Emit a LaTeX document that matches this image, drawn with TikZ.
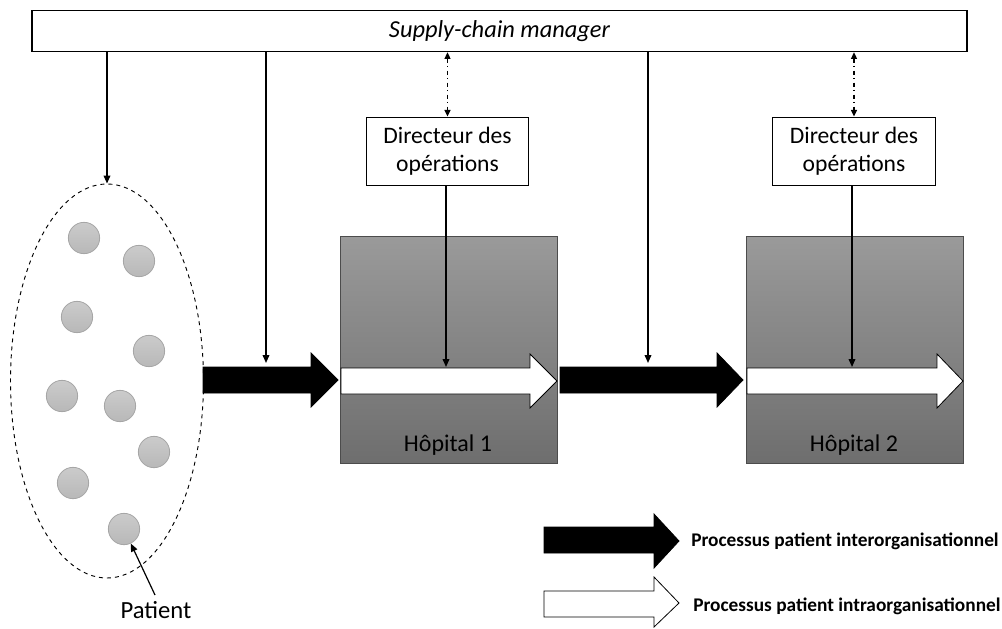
\documentclass[tikz,border=0pt]{standalone}
\usepackage{fontspec}
\setmainfont{Carlito}
\usetikzlibrary{arrows.meta,shapes.geometric}
\definecolor{hosptop}{HTML}{9A9A9A}
\definecolor{hospbot}{HTML}{6E6E6E}
\definecolor{pattop}{HTML}{CBCBCB}
\definecolor{patbot}{HTML}{B8B8B8}
\definecolor{patline}{HTML}{A6A6A6}
\begin{document}
\begin{tikzpicture}[x=0.75pt,y=-0.75pt,
  box/.style={draw=black, line width=0.9pt, fill=white, inner sep=0pt},
  dirbox/.style={box, minimum width=122pt, minimum height=51.5pt, align=center, font=\fontsize{17.7}{21}\selectfont},
  hosp/.style={draw=black!70, line width=0.6pt, top color=hosptop, bottom color=hospbot, minimum width=162.75pt, minimum height=170.25pt, inner sep=0pt},
  pat/.style={circle, draw=patline, line width=0.6pt, top color=pattop, bottom color=patbot, minimum size=23.5pt, inner sep=0pt},
  conn/.style={line width=1.1pt, -{Triangle[length=6pt,width=5pt]}},
  ddconn/.style={line width=0.9pt, dash pattern=on 3pt off 2.5pt on 1pt off 2.5pt, {Triangle[length=5pt,width=4.5pt]}-{Triangle[length=5pt,width=4.5pt]}},
  blackarr/.style={fill=black, draw=black, line width=0.6pt},
  whitearr/.style={fill=white, draw=black, line width=0.6pt},
  lbl/.style={font=\fontsize{18}{21}\selectfont},
  legtext/.style={font=\bfseries\fontsize{14.5}{17}\selectfont, anchor=west, inner sep=0pt}
]
\useasboundingbox (0,0) rectangle (1002,628);

% top box
\node[box, minimum width=701.25pt, minimum height=31pt, font=\itshape\fontsize{18.3}{21}\selectfont] (scm) at (499.5,31) {Supply-chain manager};

% patient pool
\node[ellipse, draw, dashed, line width=0.7pt, minimum width=144.75pt, minimum height=295.5pt, inner sep=0pt] (pool) at (107,381) {};
\node[pat] (c1) at (84,238) {};
\node[pat] (c2) at (139,261) {};
\node[pat] (c3) at (77,317) {};
\node[pat] (c4) at (149,351) {};
\node[pat] (c5) at (62,396) {};
\node[pat] (c6) at (120,406) {};
\node[pat] (c7) at (154,452) {};
\node[pat] (c8) at (73,483) {};
\node[pat] (c9) at (124,529) {};
\node[lbl, font=\fontsize{18.5}{21}\selectfont] (plabel) at (156,610) {Patient};
\coordinate (ptail) at (155,595);
\draw[line width=0.9pt, -{Triangle[length=6pt,width=5pt]}] (ptail) -- (c9);

% hospitals
\node[hosp] (h1) at (448.5,349.5) {};
\node[hosp] (h2) at (854.5,349.5) {};
\node[lbl] (h1l) at (448,445) {Hôpital 1};
\node[lbl] (h2l) at (854,445) {Hôpital 2};

% flow arrows
\draw[blackarr] (203,367) -- (311,367) -- (311,353) -- (338,380) -- (311,407) -- (311,393) -- (203,393) -- cycle;
\draw[whitearr] (341,368) -- (530,368) -- (530,354) -- (557,381) -- (530,408) -- (530,394) -- (341,394) -- cycle;
\draw[blackarr] (560,367) -- (717,367) -- (717,353) -- (743,380) -- (717,407) -- (717,393) -- (560,393) -- cycle;
\draw[whitearr] (747,368) -- (937,368) -- (937,354) -- (963,381) -- (937,408) -- (937,394) -- (747,394) -- cycle;

% directors
\node[dirbox] (d1) at (447.5,151.5) {Directeur des\\opérations};
\node[dirbox] (d2) at (854,151.5) {Directeur des\\opérations};

% connectors
\coordinate (p0) at (107,184);
\coordinate (p1) at (266,363);
\coordinate (p2) at (648,363);
\coordinate (w1) at (446,367);
\coordinate (w2) at (852,367);
\draw[conn] (scm.south -| p0) -- (pool.north);
\draw[conn] (scm.south -| p1) -- (p1);
\draw[conn] (scm.south -| p2) -- (p2);
\draw[conn] (d1.south -| w1) -- (w1);
\draw[conn] (d2.south -| w2) -- (w2);
\draw[ddconn] (scm.south -| d1.north) -- (d1.north);
\draw[ddconn] (scm.south -| d2.north) -- (d2.north);

% legend
\draw[blackarr] (544,527) -- (654,527) -- (654,514) -- (679,541) -- (654,568) -- (654,553) -- (544,553) -- cycle;
\node[legtext] (leg1) at (691,541) {Processus patient interorganisationnel};
\draw[whitearr] (544,591) -- (654,591) -- (654,577) -- (679,603) -- (654,627) -- (654,617) -- (544,617) -- cycle;
\node[legtext] (leg2) at (693,606) {Processus patient intraorganisationnel};
\end{tikzpicture}
\end{document}
